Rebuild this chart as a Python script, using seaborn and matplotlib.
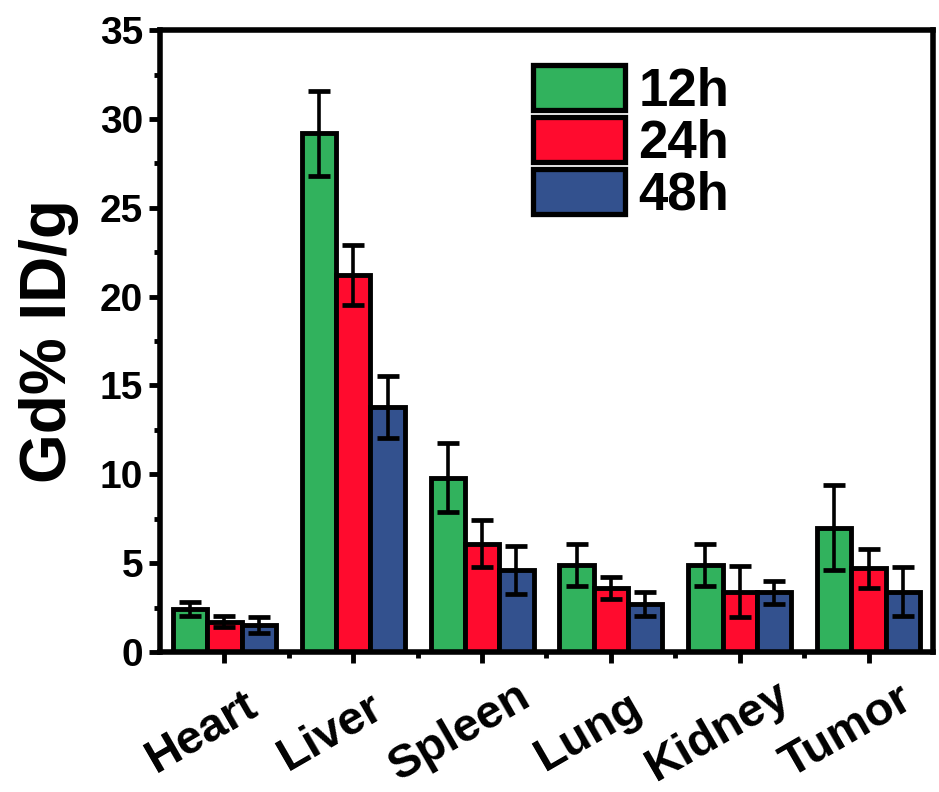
import matplotlib
matplotlib.use("Agg")
import matplotlib.pyplot as plt
import matplotlib.transforms as mtransforms
from matplotlib.ticker import MultipleLocator, FixedLocator
import seaborn as sns
import pandas as pd
import numpy as np

organs = ["Heart", "Liver", "Spleen", "Lung", "Kidney", "Tumor"]
times = ["12h", "24h", "48h"]
mean_12h = [2.4, 29.2, 9.8, 4.9, 4.9, 7.0]
mean_24h = [1.7, 21.2, 6.1, 3.6, 3.4, 4.7]
mean_48h = [1.5, 13.8, 4.6, 2.7, 3.35, 3.4]
err_12h = [0.4, 2.4, 1.95, 1.2, 1.2, 2.4]
err_24h = [0.3, 1.7, 1.3, 0.6, 1.45, 1.1]
err_48h = [0.45, 1.75, 1.35, 0.7, 0.65, 1.4]
colors = ["#31B25D", "#FF0B2E", "#33518E"]

means = [mean_12h, mean_24h, mean_48h]
errs = [err_12h, err_24h, err_48h]
rows = []
for t, m, e in zip(times, means, errs):
    for o, mv, ev in zip(organs, m, e):
        rows.append({"organ": o, "time": t, "value": mv, "err": ev})
df = pd.DataFrame(rows)

sns.set_style("ticks")
plt.rcParams["font.family"] = ["Liberation Sans", "DejaVu Sans"]
plt.rcParams["font.weight"] = "bold"
plt.rcParams["text.color"] = "black"
plt.rcParams["axes.labelcolor"] = "black"
plt.rcParams["xtick.color"] = "black"
plt.rcParams["ytick.color"] = "black"
plt.rcParams["axes.edgecolor"] = "black"

fig = plt.figure(figsize=(9.39, 7.92), dpi=100)
ax = fig.add_axes([0.1704, 0.1768, 0.8232, 0.7852])

sns.barplot(data=df, x="organ", y="value", hue="time", order=organs,
            hue_order=times, palette=colors, errorbar=None, width=0.8,
            edgecolor="black", linewidth=3.5, saturation=1, ax=ax)

for i, t in enumerate(times):
    for j, o in enumerate(organs):
        p = ax.containers[i][j]
        xc = p.get_x() + p.get_width() / 2
        eb = ax.errorbar(xc, means[i][j], yerr=errs[i][j], fmt="none",
                         ecolor="black", elinewidth=2.6, capsize=8,
                         capthick=3.4, zorder=5)

ax.set_xlim(-0.5, 5.5)
ax.set_ylim(0, 35)
ax.yaxis.set_major_locator(MultipleLocator(5))
ax.yaxis.set_minor_locator(MultipleLocator(2.5))
ax.xaxis.set_minor_locator(FixedLocator([0.5, 1.5, 2.5, 3.5, 4.5]))

for s in ax.spines.values():
    s.set_linewidth(4)
    s.set_visible(True)
    s.set_color("black")

ax.tick_params(axis="both", which="major", direction="out", length=8,
               width=3.5, labelsize=28, colors="black")
ax.tick_params(axis="both", which="minor", direction="out", length=4,
               width=3.5, colors="black")
ax.tick_params(axis="y", pad=4)

ax.set_xlabel("")
ax.set_ylabel("Gd% ID/g", fontsize=46, fontweight="bold", labelpad=15,
              color="black")

offset = mtransforms.ScaledTranslation(-22/100, -64/100, fig.dpi_scale_trans)
for lab in ax.get_xticklabels():
    lab.set_rotation(30)
    lab.set_ha("center")
    lab.set_va("center")
    lab.set_rotation_mode("anchor")
    lab.set_fontweight("bold")
    lab.set_fontsize(34)
    lab.set_color("black")
    lab.set_transform(lab.get_transform() + offset)
for lab in ax.get_yticklabels():
    lab.set_fontweight("bold")
    lab.set_color("black")

leg = ax.legend(loc="upper left", bbox_to_anchor=(0.4825, 0.944),
                frameon=False, fontsize=38, labelspacing=0.0,
                handlelength=1.75, handleheight=0.95, handletextpad=0.25,
                borderpad=0, borderaxespad=0)
for h in leg.legend_handles:
    h.set_linewidth(3.8)
    h.set_edgecolor("black")
for t in leg.get_texts():
    t.set_fontweight("bold")
    t.set_color("black")

fig.savefig("out.png", dpi=100)
